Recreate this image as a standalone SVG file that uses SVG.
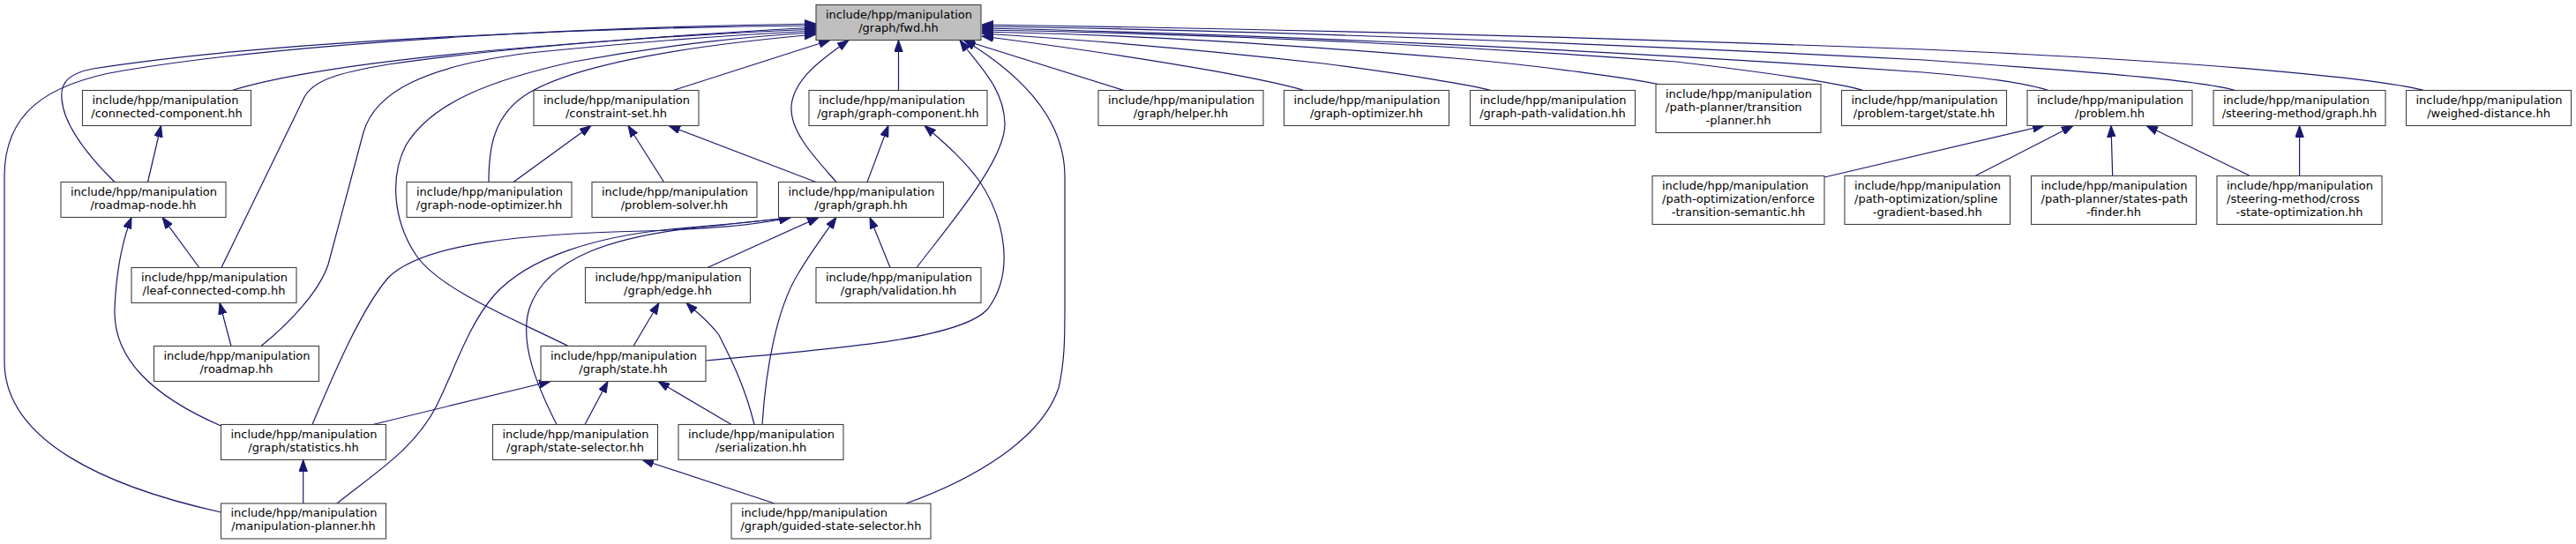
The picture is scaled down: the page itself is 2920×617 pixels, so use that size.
<svg xmlns="http://www.w3.org/2000/svg" width="2920" height="617" viewBox="0 0 2920 617">
<style>
.n rect{fill:#ffffff;stroke:#404040;stroke-width:1.1}
.n.hl rect{fill:#bfbfbf}
.n text{font-family:"DejaVu Sans","Liberation Sans",sans-serif;font-size:13px;fill:#000000}
.n text.c{text-anchor:middle}
#edges path{fill:none;stroke:#191970;stroke-width:1.2;marker-end:url(#ah)}
</style>
<defs>
<marker id="ah" markerUnits="userSpaceOnUse" markerWidth="13" markerHeight="10" viewBox="0 0 13 10" refX="13" refY="5" orient="auto">
<path d="M0,0.3 L13,5 L0,9.7 z" fill="#191970" stroke="#191970" stroke-width="1"/>
</marker>
</defs>
<rect width="2920" height="617" fill="#ffffff"/>
<g id="edges">
<path d="M263,102.5 C320,85 420,70 560,57 C700,45 850,35 925,31"/>
<path d="M130,206.5 C95,172 72,140 70,112 C68,92 80,83 105,78 C320,44 700,31 925,29"/>
<path d="M167.5,206.5 L182.5,142.5"/>
<path d="M251,303.5 L345,110 C355,92 380,83 440,73 C600,50 800,38 925,33"/>
<path d="M225.8,303.5 L184,246.5"/>
<path d="M296,392.5 C330,365 362,330 372,300 L412,150 C425,105 480,75 600,60 C750,45 860,38 925,35"/>
<path d="M262,392.5 L249,343.5"/>
<path d="M250.5,483 C170,448 128,405 130,350 C132,300 140,270 149,246.5"/>
<path d="M422.7,481.5 L624,432.5"/>
<path d="M354,481.5 C380,420 410,350 440,315 C480,275 600,265 730,262 C800,260 860,255 896,246.5"/>
<path d="M250.5,581 C120,552 5,500 5,410 L5,200 C5,130 50,95 140,80 C350,45 700,30 925,27"/>
<path d="M343.7,571 L343.7,521.5"/>
<path d="M382,571 C420,540 470,510 495,460 C515,420 530,370 560,335 C600,290 680,268 760,260 C830,254 870,250 896,246.5"/>
<path d="M763,102.5 L941,45.5"/>
<path d="M554,206.5 C554,170 558,130 600,105 C660,70 800,50 925,39"/>
<path d="M582,206.5 L670,142.5"/>
<path d="M752.6,206.5 L712,142.5"/>
<path d="M925,206.5 L758,142.5"/>
<path d="M948,206.5 C925,180 895,150 897,120 C900,90 930,68 962,45.5"/>
<path d="M983,206.5 L1007,142.5"/>
<path d="M1018.5,102.5 L1018.5,45.5"/>
<path d="M644,392.5 C590,365 500,330 472,290 C445,250 442,200 460,165 C490,115 560,90 650,70 C760,50 860,40 925,37"/>
<path d="M800,409 C950,395 1090,385 1120,350 C1150,310 1140,250 1110,205 C1090,178 1068,160 1048,142.5"/>
<path d="M718,392.5 L747,343.5"/>
<path d="M802,303.5 L928,246.5"/>
<path d="M1009,303.5 L986,246.5"/>
<path d="M1039,303.5 C1080,250 1140,180 1139,140 C1138,100 1110,75 1088,45.5"/>
<path d="M663,481.5 L689,432.5"/>
<path d="M631,481.5 C610,440 588,390 600,350 C620,290 700,268 790,258 C850,252 880,249 897,246.5"/>
<path d="M829,481.5 L746,432.5"/>
<path d="M855,481.5 C845,440 830,410 815,380 C800,360 790,355 778,343.5"/>
<path d="M864,481.5 C868,420 880,350 905,310 C920,285 935,265 948,246.5"/>
<path d="M878,571 L728,521.5"/>
<path d="M1027,571 C1100,545 1180,500 1200,440 C1207,410 1207,380 1207,350 L1207,200 C1207,130 1150,80 1093,45.5"/>
<path d="M1274,102.5 L1092,45.5"/>
<path d="M1478,102.5 C1450,94 1350,72 1113,41"/>
<path d="M1690,102.5 C1670,97 1600,85 1500,72 C1350,55 1230,45 1113,38"/>
<path d="M1880,95.5 C1840,88 1750,75 1660,67 C1450,50 1300,40 1113,36"/>
<path d="M2112,102.5 C2080,93 2000,82 1900,70 C1600,48 1350,38 1113,34"/>
<path d="M2322,102.5 C2290,93 2250,88 2180,82 C1800,55 1400,38 1113,32"/>
<path d="M2534,102.5 C2490,90 2350,80 2180,68 C1800,48 1400,34 1113,30"/>
<path d="M2748,102.5 C2690,88 2500,70 2180,56 C1800,42 1400,32 1113,28"/>
<path d="M2068,201 L2317,142.5"/>
<path d="M2239,199.5 L2350,142.5"/>
<path d="M2394.7,199.5 L2393,142.5"/>
<path d="M2550.5,199.5 L2433,142.5"/>
<path d="M2606.6,199.5 L2606.6,142.5"/>
</g>
<g id="node-fwd" class="n hl"><rect x="925" y="5.5" width="187" height="40"/><text x="936" y="20.5">include/hpp/manipulation</text><text class="c" x="1018.5" y="35.5">/graph/fwd.hh</text></g>
<g id="node-connected-component" class="n"><rect x="93.5" y="102.5" width="191" height="40"/><text x="104.5" y="117.5">include/hpp/manipulation</text><text class="c" x="189" y="132.5">/connected-component.hh</text></g>
<g id="node-constraint-set" class="n"><rect x="605" y="102.5" width="187" height="40"/><text x="616" y="117.5">include/hpp/manipulation</text><text class="c" x="698.5" y="132.5">/constraint-set.hh</text></g>
<g id="node-graph-component" class="n"><rect x="917" y="102.5" width="202" height="40"/><text x="928" y="117.5">include/hpp/manipulation</text><text class="c" x="1018" y="132.5">/graph/graph-component.hh</text></g>
<g id="node-helper" class="n"><rect x="1245" y="102.5" width="187" height="40"/><text x="1256" y="117.5">include/hpp/manipulation</text><text class="c" x="1338.5" y="132.5">/graph/helper.hh</text></g>
<g id="node-graph-optimizer" class="n"><rect x="1455.5" y="102.5" width="187" height="40"/><text x="1466.5" y="117.5">include/hpp/manipulation</text><text class="c" x="1549" y="132.5">/graph-optimizer.hh</text></g>
<g id="node-graph-path-validation" class="n"><rect x="1666.5" y="102.5" width="187" height="40"/><text x="1677.5" y="117.5">include/hpp/manipulation</text><text class="c" x="1760" y="132.5">/graph-path-validation.hh</text></g>
<g id="node-transition-planner" class="n"><rect x="1877" y="95.5" width="187" height="55"/><text x="1888" y="110.5">include/hpp/manipulation</text><text x="1888" y="125.5">/path-planner/transition</text><text class="c" x="1970.5" y="140.5">-planner.hh</text></g>
<g id="node-problem-target-state" class="n"><rect x="2087.5" y="102.5" width="187" height="40"/><text x="2098.5" y="117.5">include/hpp/manipulation</text><text class="c" x="2181" y="132.5">/problem-target/state.hh</text></g>
<g id="node-problem" class="n"><rect x="2298" y="102.5" width="187" height="40"/><text x="2309" y="117.5">include/hpp/manipulation</text><text class="c" x="2391.5" y="132.5">/problem.hh</text></g>
<g id="node-steering-method-graph" class="n"><rect x="2509" y="102.5" width="195" height="40"/><text x="2520" y="117.5">include/hpp/manipulation</text><text class="c" x="2606.5" y="132.5">/steering-method/graph.hh</text></g>
<g id="node-weighed-distance" class="n"><rect x="2727.5" y="102.5" width="187" height="40"/><text x="2738.5" y="117.5">include/hpp/manipulation</text><text class="c" x="2821" y="132.5">/weighed-distance.hh</text></g>
<g id="node-roadmap-node" class="n"><rect x="69" y="206.5" width="187" height="40"/><text x="80" y="221.5">include/hpp/manipulation</text><text class="c" x="162.5" y="236.5">/roadmap-node.hh</text></g>
<g id="node-graph-node-optimizer" class="n"><rect x="461" y="206.5" width="187" height="40"/><text x="472" y="221.5">include/hpp/manipulation</text><text class="c" x="554.5" y="236.5">/graph-node-optimizer.hh</text></g>
<g id="node-problem-solver" class="n"><rect x="671" y="206.5" width="187" height="40"/><text x="682" y="221.5">include/hpp/manipulation</text><text class="c" x="764.5" y="236.5">/problem-solver.hh</text></g>
<g id="node-graph" class="n"><rect x="882.5" y="206.5" width="187" height="40"/><text x="893.5" y="221.5">include/hpp/manipulation</text><text class="c" x="976" y="236.5">/graph/graph.hh</text></g>
<g id="node-enforce-transition-semantic" class="n"><rect x="1873" y="199.5" width="195" height="55"/><text x="1884" y="214.5">include/hpp/manipulation</text><text x="1884" y="229.5">/path-optimization/enforce</text><text class="c" x="1970.5" y="244.5">-transition-semantic.hh</text></g>
<g id="node-spline-gradient-based" class="n"><rect x="2091" y="199.5" width="187.5" height="55"/><text x="2102" y="214.5">include/hpp/manipulation</text><text x="2102" y="229.5">/path-optimization/spline</text><text class="c" x="2184.75" y="244.5">-gradient-based.hh</text></g>
<g id="node-states-path-finder" class="n"><rect x="2302.5" y="199.5" width="187" height="55"/><text x="2313.5" y="214.5">include/hpp/manipulation</text><text x="2313.5" y="229.5">/path-planner/states-path</text><text class="c" x="2396" y="244.5">-finder.hh</text></g>
<g id="node-cross-state-optimization" class="n"><rect x="2513" y="199.5" width="187" height="55"/><text x="2524" y="214.5">include/hpp/manipulation</text><text x="2524" y="229.5">/steering-method/cross</text><text class="c" x="2606.5" y="244.5">-state-optimization.hh</text></g>
<g id="node-leaf-connected-comp" class="n"><rect x="149" y="303.5" width="187" height="40"/><text x="160" y="318.5">include/hpp/manipulation</text><text class="c" x="242.5" y="333.5">/leaf-connected-comp.hh</text></g>
<g id="node-edge" class="n"><rect x="663.5" y="303.5" width="187" height="40"/><text x="674.5" y="318.5">include/hpp/manipulation</text><text class="c" x="757" y="333.5">/graph/edge.hh</text></g>
<g id="node-validation" class="n"><rect x="925" y="303.5" width="187" height="40"/><text x="936" y="318.5">include/hpp/manipulation</text><text class="c" x="1018.5" y="333.5">/graph/validation.hh</text></g>
<g id="node-roadmap" class="n"><rect x="174.5" y="392.5" width="187" height="40"/><text x="185.5" y="407.5">include/hpp/manipulation</text><text class="c" x="268" y="422.5">/roadmap.hh</text></g>
<g id="node-state" class="n"><rect x="613" y="392.5" width="187" height="40"/><text x="624" y="407.5">include/hpp/manipulation</text><text class="c" x="706.5" y="422.5">/graph/state.hh</text></g>
<g id="node-statistics" class="n"><rect x="250.5" y="481.5" width="187" height="40"/><text x="261.5" y="496.5">include/hpp/manipulation</text><text class="c" x="344" y="511.5">/graph/statistics.hh</text></g>
<g id="node-state-selector" class="n"><rect x="558.5" y="481.5" width="187" height="40"/><text x="569.5" y="496.5">include/hpp/manipulation</text><text class="c" x="652" y="511.5">/graph/state-selector.hh</text></g>
<g id="node-serialization" class="n"><rect x="769" y="481.5" width="187" height="40"/><text x="780" y="496.5">include/hpp/manipulation</text><text class="c" x="862.5" y="511.5">/serialization.hh</text></g>
<g id="node-manipulation-planner" class="n"><rect x="250.5" y="571" width="187" height="40"/><text x="261.5" y="586">include/hpp/manipulation</text><text class="c" x="344" y="601">/manipulation-planner.hh</text></g>
<g id="node-guided-state-selector" class="n"><rect x="829" y="571" width="226" height="40"/><text x="840" y="586">include/hpp/manipulation</text><text class="c" x="942" y="601">/graph/guided-state-selector.hh</text></g>
</svg>
